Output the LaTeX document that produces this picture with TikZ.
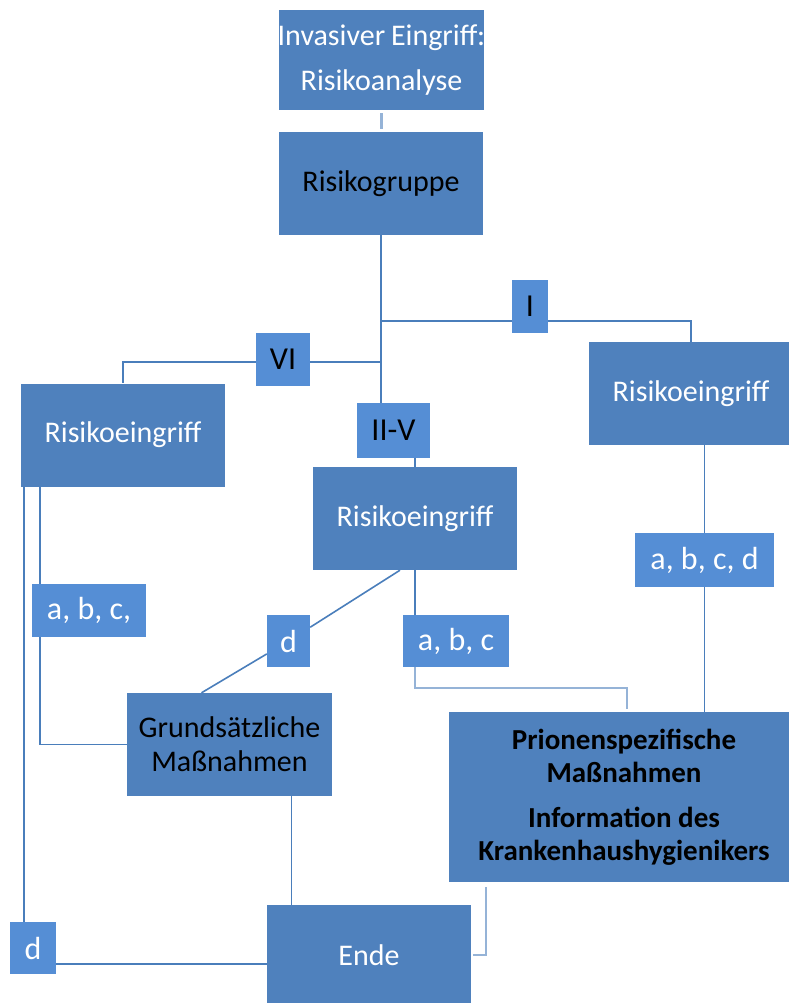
\documentclass[tikz,border=0pt]{standalone}
\usepackage{fontspec}
\setmainfont{Carlito}
\usetikzlibrary{positioning,calc}
\definecolor{boxblue}{HTML}{4F81BD}
\definecolor{tagblue}{HTML}{558ED5}
\definecolor{lineblue}{HTML}{4A7EBB}
\definecolor{softblue}{HTML}{95B3D7}

\begin{document}
\begin{tikzpicture}[x=1pt, y=-1pt,
    box/.style={rectangle, fill=boxblue, minimum width=204pt, minimum height=103pt, inner sep=0pt, align=center, font=\fontsize{30}{34}\selectfont},
    tag/.style={rectangle, fill=tagblue, minimum height=53pt, inner sep=0pt, align=center, font=\fontsize{32}{36}\selectfont},
    link/.style={draw=lineblue, line width=1.6pt},
    softlink/.style={draw=softblue, line width=2.4pt}
]
\useasboundingbox (0,0) rectangle (789,1003);

% Main boxes
\node[box, text=white, minimum width=205pt, minimum height=100pt] (top) at (381.5,60) {\makebox[0pt]{Invasiver\kern-1pt\ Eingriff:}\\[11pt]Risikoanalyse};
\node[box, text=black] (grp) at (381,183.5) {Risikogruppe};
\node[box, text=white] (riskL) at (123,435) {Risikoeingriff};
\node[box, text=white] (riskM) at (415,518.5) {Risikoeingriff};
\node[box, text=white] (riskR) at (691,393.5) {Risikoeingriff};
\node[box, text=black, minimum width=205pt] (grund) at (229.5,744.5) {Grundsätzliche\\Maßnahmen};
\node[box, text=black, minimum width=350pt, minimum height=170pt, font=\fontsize{29}{33}\selectfont\bfseries] (prion) at (624,797) {Prionenspezifische\\Maßnahmen\\[12pt]Information des\\Krankenhaushygienikers};
\node[box, text=white, minimum height=100pt] (ende) at (369,955) {Ende};

% Tags
\node[tag, text=black, minimum width=36pt] (tI) at (530,306.5) {I};
\node[tag, text=black, minimum width=54pt] (tVI) at (283,359.5) {VI};
\node[tag, text=black, minimum width=73pt, minimum height=55pt] (tIIV) at (393.5,430.5) {II-V};
\node[tag, text=white, minimum width=114pt] (tabcL) at (89,610.5) {a, b, c,};
\node[tag, text=white, minimum width=43pt, minimum height=52pt] (tdM) at (288.5,641) {d};
\node[tag, text=white, minimum width=106pt, minimum height=52pt] (tabc) at (456,641) {a, b, c};
\node[tag, text=white, minimum width=139pt, minimum height=54pt] (tabcd) at (704.5,560) {a, b, c, d};
\node[tag, text=white, minimum width=46pt, minimum height=52pt] (tdL) at (33,948) {d};

% Junctions
\coordinate (jI) at (381,321);
\coordinate (jVI) at (381,362);

% Connections
\draw[softlink, shorten <=3pt, shorten >=3pt] (top.south) -- (top.south |- grp.north);
\draw[link] (grp.south) -- (grp.south |- tIIV.north);
\draw[link] (tIIV.south -| riskM.north) -- (riskM.north);
\draw[link] (jI) -- (jI -| tI.west);
\draw[link] (jI -| tI.east) -| (riskR.north);
\draw[link] (jVI) -- (jVI -| tVI.east);
\draw[link] (jVI -| tVI.west) -| (riskL.north);

% left branch
\draw[link] ([xshift=3pt]riskL.south west) -- ([xshift=3pt]riskL.south west |- tdL.north);
\draw[link] ([yshift=-9pt]ende.west) -- ([yshift=-9pt]ende.west -| tdL.east);
\draw[link] ([xshift=19pt]riskL.south west) -- ([xshift=19pt]riskL.south west |- tabcL.north);
\draw[link] ([xshift=19pt]riskL.south west |- tabcL.south) |- (grund.west);

% middle branch
\draw[link] ([xshift=-15pt]riskM.south) -- (tdM);
\draw[link] (tdM) -- ([xshift=-28pt]grund.north);
\draw[link] (riskM.south) -- (riskM.south |- tabc.north);
\draw[softlink] (riskM.south |- tabc.south) |- ([xshift=3pt,yshift=24pt]prion.north) -- ([xshift=3pt,yshift=3pt]prion.north);

% right branch
\draw[link] (riskR.south -| tabcd) -- (tabcd);
\draw[link] (tabcd) -- (tabcd |- prion.north);

% to Ende
\draw[link] ([xshift=62pt]grund.south) -- ([xshift=62pt]grund.south |- ende.north);
\draw[softlink] ([xshift=37pt,yshift=-5pt]prion.south west) |- ([xshift=2pt]ende.east);

\end{tikzpicture}
\end{document}
